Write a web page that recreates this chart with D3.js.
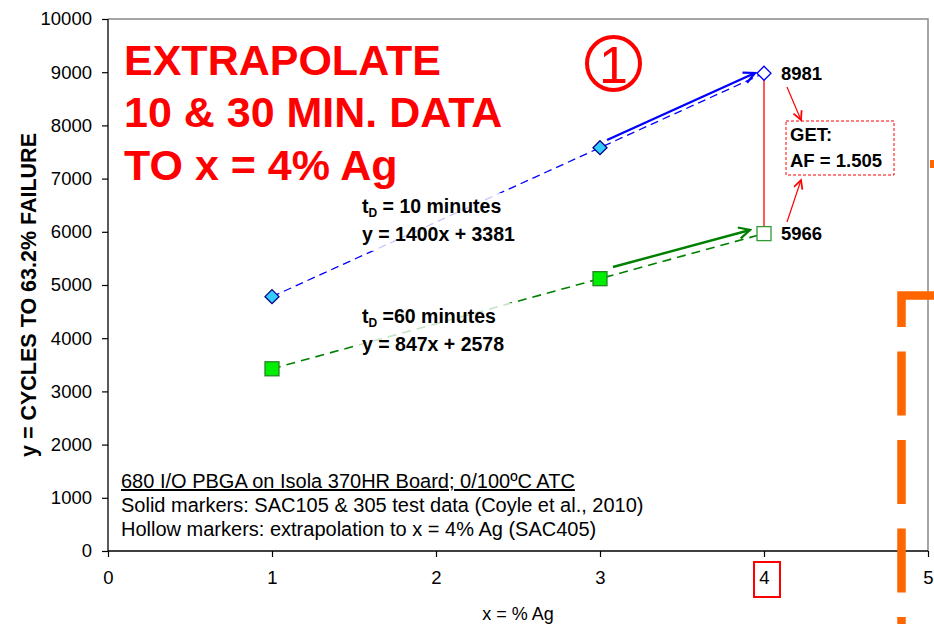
<!DOCTYPE html>
<html><head><meta charset="utf-8">
<script src="https://cdn.jsdelivr.net/npm/d3@7"></script>
<style>body{margin:0;background:#fff}svg{display:block;font-family:"Liberation Sans",Arial,sans-serif}</style>
</head><body><svg id="c" width="934" height="624"></svg>
<script>
// ---- data ----
const agX = [1, 3, 4];
const cycles10 = [4781, 7581, 8981];   // t_D = 10 minutes (x=4 extrapolated)
const cycles60 = [3425, 5119, 5966];   // t_D = 60 minutes (x=4 extrapolated)
const hollow = [false, false, true];
const xTicks = [0, 1, 2, 3, 4, 5];
const yTicks = [0,1000,2000,3000,4000,5000,6000,7000,8000,9000,10000];
const titleLines = ["EXTRAPOLATE", "10 & 30 MIN. DATA", "TO x = 4% Ag"];
const noteLines = ["680 I/O PBGA on Isola 370HR Board; 0/100ºC ATC",
  "Solid markers: SAC105 & 305 test data (Coyle et al., 2010)",
  "Hollow markers: extrapolation to x = 4% Ag (SAC405)"];
const eq10 = ["10 minutes", "y = 1400x + 3381"];
const eq60 = ["60 minutes", "y = 847x + 2578"];
const blueArrow = [[3.043, 7726], [3.945, 8985]];
const greenArrow = [[3.079, 5338], [3.915, 6034]];

const svg = d3.select("#c");
const x = d3.scaleLinear().domain([0, 5]).range([108, 928]);
const y = d3.scaleLinear().domain([0, 10000]).range([551, 19]);

const defs = svg.append("defs");
function mk(id, color, w, h) {
  defs.append("marker").attr("id", id).attr("viewBox", "0 0 10 10")
    .attr("refX", 9).attr("refY", 5).attr("markerUnits", "userSpaceOnUse")
    .attr("markerWidth", w).attr("markerHeight", h).attr("orient", "auto")
    .append("path").attr("d", "M1,1 L9,5 L1,9").attr("fill", "none")
    .attr("stroke", color).attr("stroke-width", 1.6);
}
mk("ab", "#0000ff", 16, 14); mk("ag", "#008000", 16, 14); mk("ar", "#ff0000", 12, 11);

// frame (top/right grey)
svg.append("path").attr("d", `M${x(0)},${y(10000)}H${x(5)}V${y(0)}`)
  .attr("fill", "none").attr("stroke", "#888").attr("stroke-width", 1.5);

// axes
const gx = svg.append("g").attr("transform", `translate(0,${y(0)})`)
  .call(d3.axisBottom(x).tickValues(xTicks).tickSize(6).tickPadding(14).tickFormat(d3.format("d")));
const gy = svg.append("g").attr("transform", `translate(${x(0)},0)`)
  .call(d3.axisLeft(y).tickValues(yTicks).tickSize(6).tickPadding(10).tickFormat(d3.format("d")));
[gx, gy].forEach(g => {
  g.select(".domain").attr("stroke", "#000").attr("stroke-width", 1.3);
  g.selectAll(".tick line").attr("stroke", "#000").attr("stroke-width", 1.2);
  g.selectAll("text").attr("font-size", 18.5).attr("fill", "#000").attr("font-family", "Liberation Sans, Arial");
});
gy.select(".domain").attr("d", `M0,${y(10000)}V${y(0)}`);
gx.select(".domain").attr("d", `M${x(0)},0H${x(5)}`);

// red box around tick 4
svg.append("rect").attr("x", x(4) - 10).attr("y", 562).attr("width", 26).attr("height", 35)
  .attr("fill", "none").attr("stroke", "#ff0000").attr("stroke-width", 2);

// axis titles
svg.append("text").attr("x", (x(0) + x(5)) / 2).attr("y", 620).attr("text-anchor", "middle")
  .attr("font-size", 18).text("x = % Ag");
svg.append("text").attr("transform", `translate(28,${(y(0) + y(10000)) / 2 + 10}) rotate(-90)`)
  .attr("text-anchor", "middle").attr("font-size", 21.5).attr("font-weight", "bold")
  .attr("dy", "0.35em").text("y = CYCLES TO 63.2% FAILURE");

// title
svg.append("g").selectAll("text").data(titleLines).join("text")
  .attr("x", 124).attr("y", (d, i) => 75 + i * 52.3).attr("fill", "#ff0000")
  .attr("font-size", 43).attr("font-weight", "bold").text(d => d);

// circled 1
svg.append("circle").attr("cx", 613.5).attr("cy", 63.5).attr("r", 26.5)
  .attr("fill", "none").attr("stroke", "#ff0000").attr("stroke-width", 4);
svg.append("text").attr("x", 613.5).attr("y", 82.5).attr("text-anchor", "middle")
  .attr("fill", "#ff0000").attr("font-size", 52).text("1");

// trend lines
const line = d3.line().x(d => x(d[0])).y(d => y(d[1]));
svg.append("path").attr("d", line([[agX[0], cycles10[0]], [agX[2], cycles10[2]]]))
  .attr("stroke", "#0000ff").attr("stroke-width", 1.3).attr("stroke-dasharray", "8,5").attr("fill", "none");
svg.append("path").attr("d", line([[agX[0], cycles60[0]], [agX[2], cycles60[2]]]))
  .attr("stroke", "#008000").attr("stroke-width", 1.6).attr("stroke-dasharray", "9,6").attr("fill", "none");

// equation labels with translucent white backgrounds
function eqLabel(lines, x0, yb, w, sep) {
  const g = svg.append("g");
  g.append("rect").attr("x", x0 - 4).attr("y", yb - 20).attr("width", w).attr("height", 58)
    .attr("fill", "#fff").attr("opacity", 0.78);
  const t = g.append("text").attr("x", x0).attr("y", yb).attr("font-size", 19.5).attr("font-weight", "bold");
  t.append("tspan").text("t");
  t.append("tspan").attr("font-size", 12).attr("dy", 4).text("D");
  t.append("tspan").attr("dy", -4).text(sep + lines[0]);
  g.append("text").attr("x", x0).attr("y", yb + 28).attr("font-size", 19.5).attr("font-weight", "bold").text(lines[1]);
}
eqLabel(eq10, 362, 213, 172, " = ");
eqLabel(eq60, 362, 323, 166, " =");

// solid arrows
svg.append("path").attr("d", line(blueArrow)).attr("stroke", "#0000ff").attr("stroke-width", 2.4)
  .attr("fill", "none").attr("marker-end", "url(#ab)");
svg.append("path").attr("d", line(greenArrow)).attr("stroke", "#008000").attr("stroke-width", 2.4)
  .attr("fill", "none").attr("marker-end", "url(#ag)");

// red connector
svg.append("line").attr("x1", x(4)).attr("x2", x(4)).attr("y1", y(cycles10[2])).attr("y2", y(cycles60[2]))
  .attr("stroke", "#ff0000").attr("stroke-width", 1.3);

// markers
const pts10 = agX.map((v, i) => ({ x: v, y: cycles10[i], h: hollow[i] }));
const pts60 = agX.map((v, i) => ({ x: v, y: cycles60[i], h: hollow[i] }));
svg.append("g").selectAll("path").data(pts10).join("path")
  .attr("transform", d => `translate(${x(d.x)},${y(d.y)})`)
  .attr("d", "M0,-7 L7,0 L0,7 L-7,0Z")
  .attr("fill", d => d.h ? "#fff" : "#33ccff").attr("stroke", d => d.h ? "#0000ff" : "#000080").attr("stroke-width", 1.3);
svg.append("g").selectAll("rect").data(pts60).join("rect")
  .attr("x", d => x(d.x) - 7).attr("y", d => y(d.y) - 7).attr("width", 14).attr("height", 14)
  .attr("fill", d => d.h ? "#fff" : "#00ee00").attr("stroke", d => d.h ? "#339933" : "#228822").attr("stroke-width", 1.3);

// value labels
svg.append("text").attr("x", x(4) + 17).attr("y", y(cycles10[2]) + 6.5).attr("font-size", 18.5).attr("font-weight", "bold").text(d3.format("d")(cycles10[2]));
svg.append("text").attr("x", x(4) + 17).attr("y", y(cycles60[2]) + 6.5).attr("font-size", 18.5).attr("font-weight", "bold").text(d3.format("d")(cycles60[2]));

// GET box
const afVal = cycles10[2] / cycles60[2];
svg.append("rect").attr("x", 786).attr("y", 121).attr("width", 108).attr("height", 54)
  .attr("fill", "#fff").attr("stroke", "#ff0000").attr("stroke-width", 1).attr("stroke-dasharray", "3,2");
svg.append("text").attr("x", 790).attr("y", 141).attr("font-size", 18.5).attr("font-weight", "bold").text("GET:");
svg.append("text").attr("x", 790).attr("y", 167).attr("font-size", 18.5).attr("font-weight", "bold").text("AF = " + afVal.toFixed(3));
svg.append("line").attr("x1", 787).attr("y1", 87).attr("x2", 801).attr("y2", 120)
  .attr("stroke", "#ff0000").attr("stroke-width", 1.2).attr("marker-end", "url(#ar)");
svg.append("line").attr("x1", 787).attr("y1", 222).attr("x2", 801).attr("y2", 180)
  .attr("stroke", "#ff0000").attr("stroke-width", 1.2).attr("marker-end", "url(#ar)");

// notes
const nt = svg.append("g");
nt.selectAll("text").data(noteLines).join("text")
  .attr("x", 121).attr("y", (d, i) => 488 + i * 24).attr("font-size", 20)
  .attr("text-decoration", (d, i) => i === 0 ? "underline" : null).text(d => d);

// orange overlay shapes (partially off-page)
svg.append("path").attr("d", "M934,295.5H901.5V630").attr("fill", "none")
  .attr("stroke", "#ff6600").attr("stroke-width", 8.5).attr("stroke-dasharray", "64,24.5");
svg.append("rect").attr("x", 930).attr("y", 160).attr("width", 4).attr("height", 8).attr("fill", "#ff6600");
</script></body></html>
